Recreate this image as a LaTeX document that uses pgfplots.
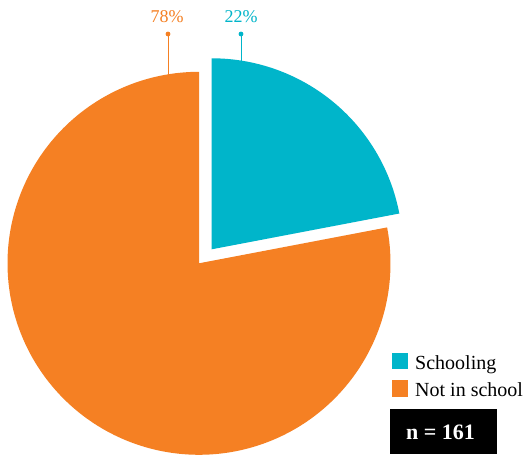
\documentclass[border=0pt]{standalone}
\usepackage{pgfplots}
\pgfplotsset{compat=1.18}
\usepackage{fontspec}
\setmainfont{Liberation Serif}
\definecolor{pieorange}{HTML}{F58023}
\definecolor{pieteal}{HTML}{00B5CA}
\begin{document}
\begin{tikzpicture}
\pgfmathsetmacro{\vS}{22}
\pgfmathsetmacro{\vN}{78}
\pgfmathsetmacro{\aS}{90-3.6*\vS}
\pgfmathsetmacro{\aN}{90+3.6*\vN}
\begin{axis}[width=529pt,height=457pt,scale only axis,
  xmin=0,xmax=529,ymin=0,ymax=457,hide axis,clip=false]
\fill[white] (axis cs:0,0) rectangle (axis cs:529,457);
% Not in school (78%)
\addplot[fill=pieorange,draw=none,domain=90:\aN,samples=200]
  ({199+191.5*cos(x)},{193.7+191.5*sin(x)}) -- (axis cs:199,193.7) -- cycle;
% Schooling (22%), exploded
\addplot[fill=pieteal,draw=none,domain=\aS:90,samples=80]
  ({211.7+191*cos(x)},{207.7+191*sin(x)}) -- (axis cs:211.7,207.7) -- cycle;
% leader lines and labels
\draw[pieorange,line width=1pt] (axis cs:168,423) -- (axis cs:168,382);
\fill[pieorange] (axis cs:168,423) circle (2.4pt);
\draw[pieteal,line width=1pt] (axis cs:241,423) -- (axis cs:241,396);
\fill[pieteal] (axis cs:241,423) circle (2.4pt);
\node[anchor=base,text=pieorange,font=\fontsize{18}{20}\selectfont,inner sep=0pt] at (axis cs:167,434) {78\%};
\node[anchor=base,text=pieteal,font=\fontsize{18}{20}\selectfont,inner sep=0pt] at (axis cs:241,434) {22\%};
% legend
\fill[pieteal] (axis cs:391.7,87.7) rectangle (axis cs:408.3,104.3);
\fill[pieorange] (axis cs:391.7,60.4) rectangle (axis cs:408.3,77);
\node[anchor=base west,inner sep=0pt,font=\fontsize{20}{22}\selectfont] at (axis cs:415,87.7) {Schooling};
\node[anchor=base west,inner sep=0pt,font=\fontsize{20}{22}\selectfont] at (axis cs:415,60.3) {Not in school};
% n box
\fill[black] (axis cs:390,3) rectangle (axis cs:497,48);
\node[anchor=base,inner sep=0pt,text=white,font=\bfseries\fontsize{22}{24}\selectfont] at (axis cs:440.5,18) {n = 161};
\end{axis}
\end{tikzpicture}
\end{document}
